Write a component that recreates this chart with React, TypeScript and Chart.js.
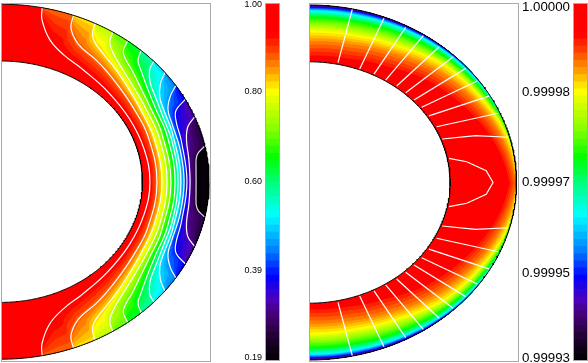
import React, { useEffect, useRef } from "react";
import { Chart, registerables } from "chart.js";

Chart.register(...registerables);

// Colour scale shared by both panels: value -> rgb
const colorValues = [1.0, 0.93, 0.9, 0.86, 0.8, 0.71, 0.65, 0.59, 0.52, 0.44, 0.38, 0.33, 0.295, 0.24, 0.19];
const colorRgb = [
  [255, 0, 0], [255, 0, 0], [255, 50, 0], [255, 128, 0], [255, 255, 0], [128, 255, 0], [0, 255, 0],
  [0, 255, 128], [0, 255, 255], [0, 128, 255], [0, 0, 255], [75, 0, 190], [70, 0, 120], [30, 0, 45], [0, 0, 0],
];
const colorSteps = 50;
const valueMin = 0.19;
const valueMax = 1.0;

// Colour bars
const leftBarLabels = ["1.00", "0.80", "0.60", "0.39", "0.19"];
const leftBarAnchors = [0.9977, 0.7986, 0.595, 0.394, 0.199];
const rightBarLabels = ["1.00000", "0.99998", "0.99997", "0.99995", "0.99993"];
const rightBarAnchors = [0.991, 0.7986, 0.595, 0.389, 0.197];

// Geometry of the shell
const innerRadius = 0.68;
const outerRadius = 1.0;

// Left panel: contour lines as [colatitude in degrees, radius]; upper quadrant, mirrored at the equator
const contour1 = [[11.4, 1], [12.2, 0.933], [16.4, 0.833], [23, 0.775], [31.7, 0.745], [45, 0.722], [60, 0.712], [75, 0.712], [90, 0.716]];
const contour2 = [[20.4, 1], [21.2, 0.93], [25.6, 0.86], [33.5, 0.825], [38.8, 0.805], [46.6, 0.78], [57, 0.76], [70, 0.752], [90, 0.75]];
const contour3 = [[26.8, 1], [27.9, 0.94], [30.4, 0.9], [41, 0.84], [50, 0.805], [60, 0.783], [72, 0.775], [90, 0.774]];
const contour4 = [[32.5, 1], [33.6, 0.945], [37, 0.9], [43, 0.86], [52, 0.825], [60, 0.808], [72, 0.8], [90, 0.798]];
const contour5 = [[37.5, 1], [38.7, 0.94], [41.5, 0.91], [45, 0.89], [53, 0.85], [60, 0.83], [70, 0.82], [90, 0.817]];
const contour6 = [[42.4, 1], [43.9, 0.95], [46.9, 0.921], [54, 0.875], [61, 0.85], [72, 0.84], [90, 0.837]];
const contour7 = [[47.3, 1], [48.5, 0.955], [52, 0.91], [58, 0.88], [65, 0.86], [75, 0.853], [90, 0.851]];
const contour8 = [[52, 1], [54.2, 0.945], [58, 0.9], [63, 0.88], [72, 0.868], [90, 0.865]];
const contour9 = [[57.2, 1], [59.4, 0.945], [63.1, 0.9], [68, 0.885], [78, 0.88], [90, 0.88]];
const contour10 = [[62.4, 1], [64.5, 0.932], [68, 0.908], [75, 0.897], [90, 0.894]];
const contour11 = [[68.6, 1], [71, 0.95], [75.3, 0.922], [82, 0.912], [90, 0.909]];
const contour12 = [[78.4, 1], [81, 0.954], [86, 0.94], [90, 0.938]];
const leftContours = [contour1, contour2, contour3, contour4, contour5, contour6, contour7, contour8, contour9, contour10, contour11, contour12];
const leftContourValues = [0.938, 0.875, 0.813, 0.75, 0.688, 0.625, 0.563, 0.5, 0.438, 0.375, 0.313, 0.25];

// Right panel: radius where the field reaches each value, at fixed colatitudes
const rightPhi = [0, 15, 30, 45, 60, 70, 80, 90];
const rightValues = [0.93, 0.86, 0.8, 0.65, 0.52, 0.38, 0.25];
const rightLevel93 = [0.7, 0.71, 0.74, 0.8, 0.85, 0.89, 0.93, 0.96];
const rightLevel86 = [0.79, 0.8, 0.83, 0.88, 0.92, 0.95, 0.975, 1];
const rightLevel80 = [0.85, 0.855, 0.88, 0.93, 0.955, 0.98, 1, 1];
const rightLevel65 = [0.93, 0.935, 0.95, 0.97, 0.985, 1, 1, 1];
const rightLevel52 = [0.968, 0.97, 0.98, 0.99, 1, 1, 1, 1];
const rightLevel38 = [0.987, 0.99, 0.995, 1, 1, 1, 1, 1];
const rightLevel25 = [1, 1, 1, 1, 1, 1, 1, 1];
const rightLevels = [rightLevel93, rightLevel86, rightLevel80, rightLevel65, rightLevel52, rightLevel38, rightLevel25];

// Right panel: white contour lines as [x, y]; upper quadrant, mirrored at the equator
const rightLines = [
  [[0.1398, 0.675], [0.2088, 0.976]],
  [[0.2442, 0.639], [0.3614, 0.925]],
  [[0.3133, 0.611], [0.466, 0.874]],
  [[0.3695, 0.577], [0.551, 0.827]],
  [[0.4225, 0.544], [0.628, 0.765]],
  [[0.466, 0.506], [0.695, 0.709]],
  [[0.506, 0.465], [0.755, 0.643]],
  [[0.543, 0.424], [0.811, 0.572]],
  [[0.578, 0.375], [0.867, 0.487]],
  [[0.615, 0.314], [0.912, 0.39]],
  [[0.642, 0.245], [0.803, 0.264], [0.96, 0.255]],
];
const rightLoop = [[0.675, 0.136], [0.76, 0.117], [0.854, 0.0665], [0.887, 0]];

const colorAt = (v: number) => {
  for (let i = 0; i < colorValues.length - 1; i++) {
    if (v >= colorValues[i + 1]) {
      const t = (v - colorValues[i + 1]) / (colorValues[i] - colorValues[i + 1]);
      const c = colorRgb[i + 1].map((a, j) => Math.round(a + (colorRgb[i][j] - a) * t));
      return `rgb(${c[0]},${c[1]},${c[2]})`;
    }
  }
  return "rgb(0,0,0)";
};

const stepEdges = Array.from({ length: colorSteps }, (_, k) => valueMax - ((valueMax - valueMin) * k) / colorSteps);
const stepMid = (k: number) => stepEdges[k] - (valueMax - valueMin) / colorSteps / 2;

const toXY = (phi: number, r: number) => ({ x: r * Math.sin((phi * Math.PI) / 180), y: r * Math.cos((phi * Math.PI) / 180) });
const phiGrid = Array.from({ length: 361 }, (_, i) => i / 2);

const radiusOn = (line: number[][], phiIn: number) => {
  const phi = phiIn > 90 ? 180 - phiIn : phiIn;
  if (phi <= line[0][0]) return line[0][1];
  for (let i = 1; i < line.length; i++) {
    if (phi <= line[i][0]) {
      const t = (phi - line[i - 1][0]) / (line[i][0] - line[i - 1][0]);
      return line[i - 1][1] + (line[i][1] - line[i - 1][1]) * t;
    }
  }
  return line[line.length - 1][1];
};

// Radius of the value v at a colatitude, from isolines ordered by falling value
const radiusOf = (lines: number[][][], values: number[], v: number, phi: number) => {
  if (v <= values[values.length - 1]) return radiusOn(lines[lines.length - 1], phi);
  for (let i = 1; i < values.length; i++) {
    if (v >= values[i]) {
      const t = (values[i - 1] - v) / (values[i - 1] - values[i]);
      const a = radiusOn(lines[i - 1], phi);
      const b = radiusOn(lines[i], phi);
      return a + (b - a) * t;
    }
  }
  return outerRadius;
};

const shellArc = (r: number) => phiGrid.map((p) => toXY(p, r));

const polygon = (points: { x: number; y: number }[], color: string) => ({
  data: points,
  showLine: true,
  fill: "shape",
  backgroundColor: color,
  borderColor: color,
  borderWidth: 0,
  pointRadius: 0,
  tension: 0,
});

const stroke = (points: { x: number; y: number }[], color: string, width: number, tension = 0) => ({
  data: points,
  showLine: true,
  fill: false,
  borderColor: color,
  borderWidth: width,
  pointRadius: 0,
  tension,
});

const fieldDatasets = (lines: number[][][], values: number[]) => {
  const out: any[] = [];
  const outerBack = shellArc(outerRadius).reverse();
  out.push(polygon([...shellArc(innerRadius), ...outerBack], colorAt(1)));
  for (let k = 0; k < colorSteps; k++) {
    if (stepEdges[k] > values[0]) continue;
    const curve = phiGrid.map((p) => toXY(p, radiusOf(lines, values, stepEdges[k], p)));
    out.push(polygon([...curve, ...outerBack], colorAt(stepMid(k))));
  }
  return out;
};

const outlines = () => [stroke(shellArc(innerRadius), "#000", 1), stroke(shellArc(outerRadius), "#000", 1)];

// Chart.js paints the first dataset last, so the lists are turned round
const leftDatasets = () => {
  const out = fieldDatasets(leftContours, leftContourValues);
  leftContours.forEach((line, i) => {
    const top = line.map(([p, r]) => toXY(p, r));
    const bottom = [...line].reverse().map(([p, r]) => toXY(180 - p, r));
    const white = i < 11 ? "#fff" : "#ddd";
    out.push(stroke([...top, ...bottom.slice(1)], white, 1.2, 0.4));
  });
  return [...out, ...outlines()].reverse();
};

const rightDatasets = () => {
  const out = fieldDatasets(rightLevels.map((r) => r.map((v, i) => [rightPhi[i], v])), rightValues);
  rightLines.forEach((line) => {
    out.push(stroke(line.map(([x, y]) => ({ x, y })), "#fff", 1.2));
    out.push(stroke(line.map(([x, y]) => ({ x, y: -y })), "#fff", 1.2));
  });
  const loopTop = rightLoop.map(([x, y]) => ({ x, y }));
  const loopBottom = [...rightLoop].reverse().map(([x, y]) => ({ x, y: -y }));
  out.push(stroke([...loopTop, ...loopBottom.slice(1)], "#fff", 1.2));
  return [...out, ...outlines()].reverse();
};

const framePlugin = {
  id: "frame",
  afterDraw(chart: any) {
    const { ctx, chartArea: a } = chart;
    ctx.save();
    ctx.strokeStyle = "#aaaaaa";
    ctx.lineWidth = 1;
    ctx.strokeRect(a.left + 0.5, a.top + 0.5, a.right - a.left - 1, a.bottom - a.top - 1);
    ctx.restore();
  },
};

const fieldConfig = (datasets: any[], xMax: number, yMin: number, yMax: number) => ({
  type: "scatter",
  data: { datasets },
  plugins: [framePlugin],
  options: {
    animation: false,
    responsive: false,
    layout: { padding: 0 },
    plugins: { legend: { display: false }, tooltip: { enabled: false } },
    scales: {
      x: { type: "linear", display: false, min: 0, max: xMax },
      y: { type: "linear", display: false, min: yMin, max: yMax },
    },
  },
});

const barConfig = (anchors: number[], labels: string[], axisWidth: number, fontSize: number) => ({
  type: "bar",
  data: {
    labels: [""],
    datasets: stepEdges
      .map((hi, k) => ({
        data: [[valueMin, hi]],
        backgroundColor: colorAt(stepMid(k)),
        borderWidth: 0,
        barPercentage: 1,
        categoryPercentage: 1,
      }))
      .reverse(),
  },
  plugins: [framePlugin],
  options: {
    animation: false,
    responsive: false,
    layout: { padding: { top: 3, bottom: 2, left: 0, right: 0 } },
    plugins: { legend: { display: false }, tooltip: { enabled: false } },
    datasets: { bar: { grouped: false } },
    scales: {
      x: { display: false },
      y: {
        min: valueMin,
        max: valueMax,
        grid: { display: false, drawTicks: false, tickLength: 0 },
        border: { display: false },
        afterBuildTicks(scale: any) {
          scale.ticks = anchors.map((value) => ({ value }));
        },
        afterFit(scale: any) {
          scale.width = axisWidth;
          scale.paddingTop = 0;
          scale.paddingBottom = 0;
        },
        ticks: {
          autoSkip: false,
          padding: 3,
          color: "#000",
          font: { family: "'Liberation Sans'", size: fontSize },
          callback: (_: any, i: number) => labels[i],
        },
      },
    },
  },
});

const panels = [
  { left: 1, top: 3, width: 210, height: 359, config: () => fieldConfig(leftDatasets(), 210 / 208, (181.7 - 362) / 177.5, (181.7 - 3) / 177.5) },
  { left: 230, top: 0, width: 50, height: 363, config: () => barConfig(leftBarAnchors, leftBarLabels, 35, 9) },
  { left: 309, top: 3, width: 210, height: 359, config: () => fieldConfig(rightDatasets(), 210 / 207.5, (182.5 - 362) / 177.5, (182.5 - 3) / 177.5) },
  { left: 518, top: 0, width: 70, height: 363, config: () => barConfig(rightBarAnchors, rightBarLabels, 55, 13.3) },
];

function Panel({ left, top, width, height, config }: any) {
  const ref = useRef<HTMLCanvasElement>(null);
  useEffect(() => {
    const chart = new Chart(ref.current as any, config());
    return () => chart.destroy();
  }, []);
  return <canvas ref={ref} width={width} height={height} style={{ position: "absolute", left, top, width, height, display: "block" }} />;
}

export default function App() {
  return (
    <div style={{ position: "fixed", left: 0, top: 0, width: 588, height: 363, background: "#fff", overflow: "hidden" }}>
      {panels.map((p, i) => (
        <Panel key={i} {...p} />
      ))}
    </div>
  );
}
